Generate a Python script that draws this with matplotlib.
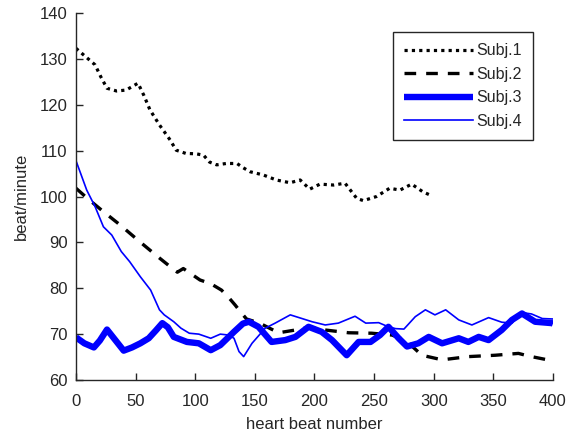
import matplotlib
matplotlib.use("Agg")
import matplotlib.pyplot as plt

plt.rcParams['font.family'] = ['Liberation Sans', 'DejaVu Sans']

s1_x = [0, 8, 16, 21, 26, 34, 42, 52, 57, 62, 70, 79, 84, 92, 101, 107, 112, 118, 126, 135,
        140, 146, 157, 168, 179.5, 188, 196, 204.6, 216, 225.6, 235.4, 241, 252, 263, 271.7,
        281.5, 291, 298]
s1_y = [132.3, 130.5, 128.7, 126, 123.6, 123, 123.2, 124.7, 122, 118.9, 115.6, 112.3, 110.1,
        109.4, 109.3, 109, 107.5, 106.9, 107.2, 107.2, 106.3, 105.4, 104.7, 103.6, 103, 103.6,
        101.6, 102.7, 102.5, 102.9, 99.6, 99.1, 100, 101.8, 101.4, 102.7, 101, 100.2]

s2_x = [0, 10, 23, 37, 53.7, 70.4, 80, 85, 90, 104, 113, 122, 128, 133.6, 137.5, 143, 154, 163,
        170, 177, 184, 195, 209, 228.6, 248, 265, 275, 280, 290, 307, 329, 351.6, 371, 380,
        393.5, 400]
s2_y = [101.8, 99.5, 96.7, 93.8, 90.1, 86.5, 84.5, 83.5, 84.3, 81.8, 81, 79.6, 78, 76.3, 75,
        73.3, 72.4, 71.2, 70.3, 70.6, 70.9, 71.5, 70.9, 70.3, 70.2, 69.8, 68.8, 67.8, 65.4, 64.4,
        65.1, 65.4, 65.8, 65.2, 64.5, 64.1]

s3_x = [0, 7, 15, 20, 26, 33, 40, 47, 54, 61, 67, 72.4, 77, 82, 93, 103, 113, 121, 132.5, 140,
        145, 153, 164, 175.5, 184, 195, 206, 214.7, 227, 237, 247, 255, 262, 270.6, 277.6, 287,
        295.8, 307, 321, 329, 337.7, 346, 357, 365.6, 374, 385, 399, 400]
s3_y = [69.3, 68, 67.1, 68.6, 71, 68.7, 66.4, 67.1, 68, 69.1, 70.8, 72.4, 71.5, 69.4, 68.3, 68,
        66.5, 67.6, 70.5, 72.3, 72.7, 71.6, 68.3, 68.7, 69.4, 71.6, 70.5, 68.7, 65.4, 68.3, 68.3,
        69.8, 71.6, 69.1, 67.3, 68, 69.4, 68, 69.1, 68.3, 69.4, 68.7, 70.9, 73.1, 74.5, 72.7,
        72.4, 72.3]

s4_x = [0, 9, 16, 23, 30, 38, 45, 54, 62.6, 70, 74, 82, 88, 95, 103, 113, 121, 128, 132.5,
        136.7, 140.6, 147.6, 158.7, 167, 179.7, 189.5, 198, 209, 220, 234, 243, 253.8, 262, 268,
        275, 284.5, 293, 301, 310, 321, 332, 346, 357, 365.6, 374, 382, 391, 400]
s4_y = [107.8, 101.4, 97.8, 93.4, 91.6, 88, 85.8, 82.5, 79.6, 75.3, 74.2, 72.7, 71.3, 70.2, 70,
        69.1, 70, 69.8, 69.1, 66.2, 65.1, 68, 71.3, 72.4, 74.2, 73.4, 72.7, 72, 72.4, 73.9, 72.4,
        72.5, 71.6, 71.2, 71.1, 73.8, 75.3, 74.2, 75.3, 73.1, 72, 73.6, 72.6, 72.4, 74.7, 74.4,
        73.4, 73.3]

fig = plt.figure(figsize=(5.77, 4.41), dpi=100)
ax = fig.add_axes([0.1317, 0.1383, 0.8267, 0.8322])

ax.plot(s1_x, s1_y, color='black', lw=2.3, linestyle=(0, (1, 1.3)), dash_capstyle='butt',
        dash_joinstyle='round', label='Subj.1')
ax.plot(s2_x, s2_y, color='black', lw=2.4, linestyle=(0, (3.5, 3)), dash_capstyle='butt',
        dash_joinstyle='round', label='Subj.2')
ax.plot(s3_x, s3_y, color='#0000ff', lw=4.6, solid_joinstyle='round', solid_capstyle='butt',
        label='Subj.3')
ax.plot(s4_x, s4_y, color='#0000ff', lw=1.2, solid_joinstyle='round', label='Subj.4')

ax.set_xlim(0, 400)
ax.set_ylim(60, 140)
ax.set_xticks(range(0, 401, 50))
ax.set_yticks(range(60, 141, 10))
for s in ['top', 'right']:
    ax.spines[s].set_visible(False)
for s in ['left', 'bottom']:
    ax.spines[s].set_color('#262626')
    ax.spines[s].set_linewidth(1.0)
ax.tick_params(direction='in', length=5, width=1.0, color='#262626', labelcolor='#262626',
               labelsize=12)
ax.tick_params(axis='x', pad=10)
ax.tick_params(axis='y', pad=6)
ax.set_xlabel('heart beat number', fontsize=12, color='#262626', labelpad=6)
ax.set_ylabel('beat/minute', fontsize=12, color='#262626', labelpad=8)

leg = ax.legend(loc='upper right', bbox_to_anchor=(0.958, 0.948), borderaxespad=0,
                fontsize=11.5, handlelength=4.3, handletextpad=0.2, labelspacing=0.53,
                borderpad=0.7, fancybox=False, framealpha=1, edgecolor='#262626')
leg.get_frame().set_linewidth(1.0)
for t in leg.get_texts():
    t.set_color('#262626')

fig.savefig('out.png', dpi=100)
